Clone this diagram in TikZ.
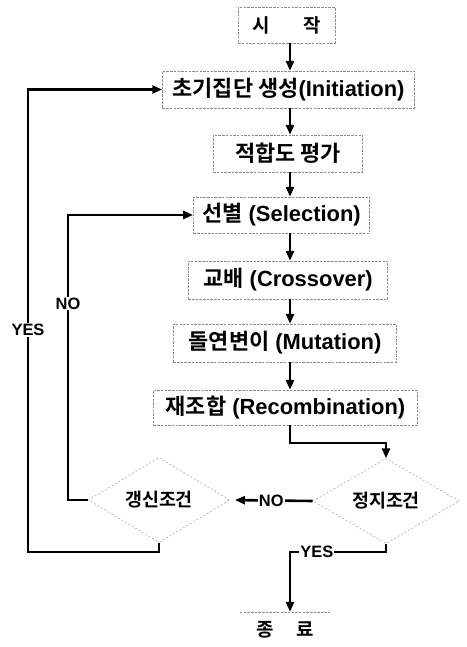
\documentclass[tikz,border=0pt]{standalone}
\usepackage{fontspec}
\setmainfont{Liberation Sans}[BoldFont={Liberation Sans Bold}]
\newfontfamily\latb{Liberation Sans Bold}
\newfontfamily\krfont{Noto Sans CJK KR}[BoldFont={Noto Sans CJK KR Bold}]
\usetikzlibrary{arrows.meta,shapes.geometric}
\newcommand\K[1]{{\krfont\bfseries #1}}
\begin{document}
\begin{tikzpicture}[x=1bp,y=-1bp,
  procbox/.style={draw=black!45, dash pattern=on 2.5pt off 1.2pt, line width=0.5pt,
    inner sep=0pt, font=\latb\fontsize{22}{24}\selectfont},
  decbox/.style={diamond, draw=black!40, dash pattern=on 2pt off 2pt, line width=0.45pt,
    inner sep=0pt, font=\latb\fontsize{18.5}{21}\selectfont},
  arr/.style={line width=2.6pt, -{Triangle[length=10pt,width=8pt]}},
  lab/.style={fill=white, inner sep=1pt, font=\latb\fontsize{16.5}{18}\selectfont},
  endtext/.style={inner sep=0pt, minimum width=90, minimum height=36,
    font=\latb\fontsize{19}{22}\selectfont}]
\useasboundingbox (0,0) rectangle (467,647);
\fill[white] (0,0) rectangle (467,647);

\coordinate (ax) at (290,0);
\coordinate (nx) at (68,0);
\coordinate (yx) at (28,0);
\coordinate (yb) at (0,552);
\coordinate (rb) at (0,443);

\node[procbox, minimum width=97, minimum height=36] (start) at (286.5,25)
  {\fontsize{19}{22}\selectfont\K{시\hspace{34bp}작}};
\node[procbox, minimum width=253, minimum height=37] (init) at (288.5,89.5)
  {\K{초기집단 생성}(Initiation)};
\node[procbox, minimum width=150, minimum height=37] (fit) at (288,153.5)
  {\K{적합도 평가}};
\node[procbox, minimum width=177, minimum height=36] (sel) at (281.5,215)
  {\K{선별} (Selection)};
\node[procbox, minimum width=200, minimum height=38] (cross) at (288,280)
  {\K{교배} (Crossover)};
\node[procbox, minimum width=224, minimum height=38] (mut) at (285,343)
  {\K{돌연변이} (Mutation)};
\node[procbox, minimum width=265, minimum height=35] (rec) at (285.5,407.5)
  {\K{재조합} (Recombination)};
\node[decbox, minimum width=147, minimum height=62] (stop) at (386,501)
  {\K{정지조건}};
\node[decbox, minimum width=142, minimum height=64] (upd) at (159,500)
  {\K{갱신조건}};
\node[endtext] (end) at (285,630) {\K{종\hspace{23bp}료}};
\draw[black!45, dash pattern=on 2.5pt off 1.2pt, line width=0.5pt]
  (end.north west) -- (end.north east);

\draw[arr] (start.south -| ax) -- (init.north -| ax);
\draw[arr] (init.south -| ax) -- (fit.north -| ax);
\draw[arr] (fit.south -| ax) -- (sel.north -| ax);
\draw[arr] (sel.south -| ax) -- (cross.north -| ax);
\draw[arr] (cross.south -| ax) -- (mut.north -| ax);
\draw[arr] (mut.south -| ax) -- (rec.north -| ax);
\draw[arr] (rec.south -| ax) -- (rb -| ax) -| (stop.north);

\draw[arr, shorten >=5pt] (stop.west) -- node[lab, pos=0.5]{NO} (upd.east);

\draw[arr] (upd.west) -- (upd.west -| nx) -- node[lab, pos=0.69]{NO} (sel.west -| nx) -- (sel.west);

\draw[arr] (upd.south) -- (upd.south |- yb) -- (yb -| yx)
  -- node[lab, pos=0.48]{YES} (init.west -| yx) -- (init.west);

\draw[arr] (stop.south) -- (stop.south |- yb) -- node[lab, pos=0.72]{YES} (yb -| ax)
  -- (end.north -| ax);
\end{tikzpicture}
\end{document}
